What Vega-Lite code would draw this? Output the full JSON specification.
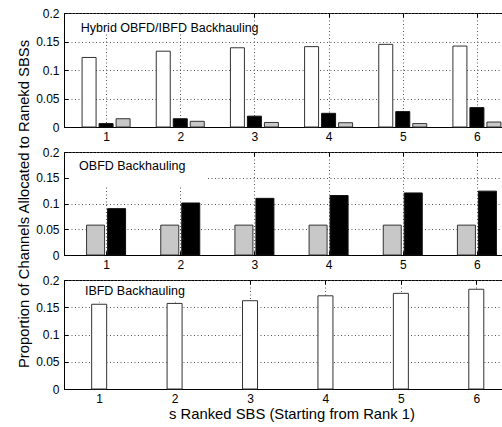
{
  "$schema": "https://vega.github.io/schema/vega-lite/v6.json",
  "padding": {"left": 16, "top": 6, "right": 0, "bottom": 2},
  "background": "white",
  "config": {
    "font": "Liberation Sans",
    "view": {"stroke": "black", "strokeWidth": 1},
    "axis": {
      "domainColor": "black",
      "tickColor": "black",
      "tickSize": -4,
      "labelColor": "black",
      "labelFont": "Liberation Sans",
      "labelFontSize": 12,
      "titleFont": "Liberation Sans",
      "titleFontSize": 14.8,
      "titleFontWeight": "normal",
      "titleColor": "black",
      "gridColor": "#555",
      "gridDash": [1, 2.5],
      "gridOpacity": 1
    }
  },
  "datasets": {
    "d": [
      {"panel": "Hybrid", "series": "S1", "rank": 1, "value": 0.122},
      {"panel": "Hybrid", "series": "S1", "rank": 2, "value": 0.133},
      {"panel": "Hybrid", "series": "S1", "rank": 3, "value": 0.139},
      {"panel": "Hybrid", "series": "S1", "rank": 4, "value": 0.141},
      {"panel": "Hybrid", "series": "S1", "rank": 5, "value": 0.145},
      {"panel": "Hybrid", "series": "S1", "rank": 6, "value": 0.142},
      {"panel": "Hybrid", "series": "S2", "rank": 1, "value": 0.006},
      {"panel": "Hybrid", "series": "S2", "rank": 2, "value": 0.0145},
      {"panel": "Hybrid", "series": "S2", "rank": 3, "value": 0.019},
      {"panel": "Hybrid", "series": "S2", "rank": 4, "value": 0.024},
      {"panel": "Hybrid", "series": "S2", "rank": 5, "value": 0.027},
      {"panel": "Hybrid", "series": "S2", "rank": 6, "value": 0.034},
      {"panel": "Hybrid", "series": "S3", "rank": 1, "value": 0.0145},
      {"panel": "Hybrid", "series": "S3", "rank": 2, "value": 0.010},
      {"panel": "Hybrid", "series": "S3", "rank": 3, "value": 0.008},
      {"panel": "Hybrid", "series": "S3", "rank": 4, "value": 0.0075},
      {"panel": "Hybrid", "series": "S3", "rank": 5, "value": 0.006},
      {"panel": "Hybrid", "series": "S3", "rank": 6, "value": 0.0087},
      {"panel": "OBFD", "series": "S3", "rank": 1, "value": 0.058},
      {"panel": "OBFD", "series": "S3", "rank": 2, "value": 0.058},
      {"panel": "OBFD", "series": "S3", "rank": 3, "value": 0.058},
      {"panel": "OBFD", "series": "S3", "rank": 4, "value": 0.058},
      {"panel": "OBFD", "series": "S3", "rank": 5, "value": 0.058},
      {"panel": "OBFD", "series": "S3", "rank": 6, "value": 0.058},
      {"panel": "OBFD", "series": "S2", "rank": 1, "value": 0.090},
      {"panel": "OBFD", "series": "S2", "rank": 2, "value": 0.101},
      {"panel": "OBFD", "series": "S2", "rank": 3, "value": 0.110},
      {"panel": "OBFD", "series": "S2", "rank": 4, "value": 0.1155},
      {"panel": "OBFD", "series": "S2", "rank": 5, "value": 0.1205},
      {"panel": "OBFD", "series": "S2", "rank": 6, "value": 0.124},
      {"panel": "IBFD", "series": "S1", "rank": 1, "value": 0.1555},
      {"panel": "IBFD", "series": "S1", "rank": 2, "value": 0.157},
      {"panel": "IBFD", "series": "S1", "rank": 3, "value": 0.162},
      {"panel": "IBFD", "series": "S1", "rank": 4, "value": 0.171},
      {"panel": "IBFD", "series": "S1", "rank": 5, "value": 0.1755},
      {"panel": "IBFD", "series": "S1", "rank": 6, "value": 0.183}
    ]
  },
  "bounds": "flush",
  "spacing": 25,
  "vconcat": [
    {
      "width": 455,
      "height": 114,
      "data": {"name": "d"},
      "transform": [{"filter": "datum.panel === 'Hybrid'"}],
      "encoding": {
        "x": {"field": "rank", "type": "quantitative", "scale": {"domain": [0.5, 6.5], "nice": false, "zero": false},
          "axis": {"values": [1, 2, 3, 4, 5, 6], "format": "d", "grid": true, "title": null, "labelPadding": 8}},
        "y": {"field": "value", "type": "quantitative", "scale": {"domain": [0, 0.2], "nice": false},
          "axis": {"values": [0, 0.05, 0.1, 0.15, 0.2], "format": "~g", "grid": true, "title": null, "labelPadding": 9}}
      },
      "layer": [
        {
          "layer": [
            {"transform": [{"filter": "datum.series === 'S1' && datum.rank === 1"}], "mark": {"type": "rect", "fill": "white", "stroke": null}, "encoding": {"x": {"datum": 0.513}, "x2": {"datum": 2.98}, "y": {"datum": 0.198}, "y2": {"datum": 0.165}}},
            {"transform": [{"filter": "datum.series === 'S1'"}], "mark": {"type": "bar", "width": 14, "xOffset": -17, "fill": "white", "stroke": "#333", "strokeWidth": 1}},
            {"transform": [{"filter": "datum.series === 'S2'"}], "mark": {"type": "bar", "width": 14, "xOffset": 0, "fill": "black", "stroke": "#111", "strokeWidth": 1}},
            {"transform": [{"filter": "datum.series === 'S3'"}], "mark": {"type": "bar", "width": 14, "xOffset": 17, "fill": "#c8c8c8", "stroke": "#333", "strokeWidth": 1}},
            {"transform": [{"filter": "datum.series === 'S1' && datum.rank === 1"}], "mark": {"type": "text", "font": "Liberation Sans", "fontSize": 12.5, "color": "black", "align": "left", "baseline": "middle"}, "encoding": {"x": {"datum": 0.658}, "y": {"datum": 0.1737}, "text": {"value": "Hybrid OBFD/IBFD Backhauling"}}}
          ]
        },
        {
          "mark": {"type": "point", "opacity": 0},
          "encoding": {
            "x": {"field": "rank", "type": "quantitative", "axis": {"orient": "top", "values": [1, 2, 3, 4, 5, 6], "labels": false, "domain": false, "grid": false, "title": null}}
          }
        }
      ],
      "resolve": {"axis": {"x": "independent"}}
    },
    {
      "width": 455,
      "height": 103,
      "data": {"name": "d"},
      "transform": [{"filter": "datum.panel === 'OBFD'"}],
      "encoding": {
        "x": {"field": "rank", "type": "quantitative", "scale": {"domain": [0.5, 6.5], "nice": false, "zero": false},
          "axis": {"values": [1, 2, 3, 4, 5, 6], "format": "d", "grid": true, "title": null, "labelPadding": 8}},
        "y": {"field": "value", "type": "quantitative", "scale": {"domain": [0, 0.2], "nice": false},
          "axis": {"values": [0, 0.05, 0.1, 0.15, 0.2], "format": "~g", "grid": true, "title": "Proportion of Channels Allocated to Ranekd SBSs", "titlePadding": 4, "labelPadding": 9}}
      },
      "layer": [
        {
          "layer": [
            {"transform": [{"filter": "datum.series === 'S2' && datum.rank === 1"}], "mark": {"type": "rect", "fill": "white", "stroke": null}, "encoding": {"x": {"datum": 0.513}, "x2": {"datum": 2.346}, "y": {"datum": 0.198}, "y2": {"datum": 0.136}}},
            {"transform": [{"filter": "datum.series === 'S3'"}], "mark": {"type": "bar", "width": 18, "xOffset": -10.5, "fill": "#c8c8c8", "stroke": "#333", "strokeWidth": 1}},
            {"transform": [{"filter": "datum.series === 'S2'"}], "mark": {"type": "bar", "width": 18, "xOffset": 10.5, "fill": "black", "stroke": "#111", "strokeWidth": 1}},
            {"transform": [{"filter": "datum.series === 'S2' && datum.rank === 1"}], "mark": {"type": "text", "font": "Liberation Sans", "fontSize": 12.5, "color": "black", "align": "left", "baseline": "middle"}, "encoding": {"x": {"datum": 0.636}, "y": {"datum": 0.1722}, "text": {"value": "OBFD Backhauling"}}}
          ]
        },
        {
          "mark": {"type": "point", "opacity": 0},
          "encoding": {
            "x": {"field": "rank", "type": "quantitative", "axis": {"orient": "top", "values": [1, 2, 3, 4, 5, 6], "labels": false, "domain": false, "grid": false, "title": null}}
          }
        }
      ],
      "resolve": {"axis": {"x": "independent"}}
    },
    {
      "width": 455,
      "height": 109,
      "data": {"name": "d"},
      "transform": [{"filter": "datum.panel === 'IBFD'"}],
      "encoding": {
        "x": {"field": "rank", "type": "quantitative", "scale": {"domain": [0.6, 6.5], "nice": false, "zero": false},
          "axis": {"values": [1, 2, 3, 4, 5, 6], "format": "d", "grid": true, "title": "s Ranked SBS (Starting from Rank 1)", "titlePadding": 2, "labelPadding": 8}},
        "y": {"field": "value", "type": "quantitative", "scale": {"domain": [0, 0.2], "nice": false},
          "axis": {"values": [0, 0.05, 0.1, 0.15, 0.2], "format": "~g", "grid": true, "title": null, "labelPadding": 9}}
      },
      "layer": [
        {
          "layer": [
            {"transform": [{"filter": "datum.series === 'S1' && datum.rank === 1"}], "mark": {"type": "rect", "fill": "white", "stroke": null}, "encoding": {"x": {"datum": 0.613}, "x2": {"datum": 2.18}, "y": {"datum": 0.198}, "y2": {"datum": 0.16}}},
            {"transform": [{"filter": "datum.series === 'S1'"}], "mark": {"type": "bar", "width": 15, "xOffset": 0, "fill": "white", "stroke": "#333", "strokeWidth": 1}},
            {"transform": [{"filter": "datum.series === 'S1' && datum.rank === 1"}], "mark": {"type": "text", "font": "Liberation Sans", "fontSize": 12.5, "color": "black", "align": "left", "baseline": "middle"}, "encoding": {"x": {"datum": 0.811}, "y": {"datum": 0.18}, "text": {"value": "IBFD Backhauling"}}}
          ]
        },
        {
          "mark": {"type": "point", "opacity": 0},
          "encoding": {
            "x": {"field": "rank", "type": "quantitative", "axis": {"orient": "top", "values": [1, 2, 3, 4, 5, 6], "labels": false, "domain": false, "grid": false, "title": null}}
          }
        }
      ],
      "resolve": {"axis": {"x": "independent"}}
    }
  ]
}
